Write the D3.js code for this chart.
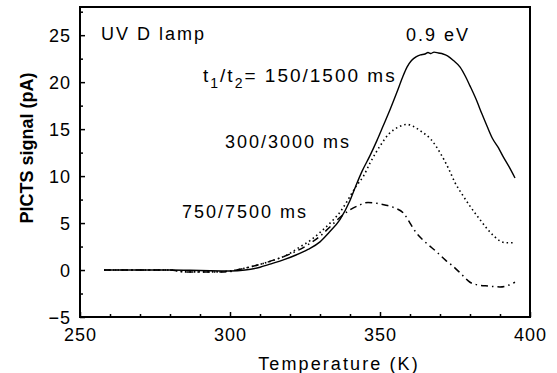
<!DOCTYPE html>
<html>
<head>
<meta charset="utf-8">
<script src="https://cdn.jsdelivr.net/npm/d3@7"></script>
<style>
  body { margin: 0; background: #fff; }
  svg { display: block; font-family: "Liberation Sans", Arial, sans-serif; }
</style>
</head>
<body>
<script>
// data: [temperature K, signal pA]
const curve150 = [[258,0],[270,0],[280,0],[290,-0.05],[300,-0.1],[305,0],[310,0.3],[313,0.6],[318,1.1],
  [322,1.6],[326,2.2],[330,3.0],[333,4.0],[336.7,5.4],[340,7.4],[342,9.0],[344,10.5],[346.7,12.2],
  [349,13.8],[351,15.3],[353.5,17.2],[355.6,18.9],[357.5,20.5],[359,21.6],[360.5,22.3],[362,22.7],
  [363.5,22.9],[365,23.0],[366,23.15],[367,23.05],[368,23.2],[369.5,23.1],[371,23.0],[372.5,22.8],
  [374.5,22.3],[376.7,21.6],[378.5,20.6],[380,19.6],[382,18.2],[384,16.6],[385.7,15.3],[387.5,14.0],
  [389.5,13.0],[391,12.1],[393,11.0],[395,9.8]];
const curve300 = [[258,0],[280,0],[285,-0.2],[295,-0.2],[300,-0.1],[305,0.2],[310,0.6],[315,1.1],
  [319,1.6],[323,2.4],[327,3.2],[330,4.0],[334,5.2],[337,6.3],[339,7.3],[342,8.9],[344.5,10.0],
  [346.7,11.4],[350,13.2],[353,14.5],[356,15.2],[359,15.5],[361,15.3],[364,14.7],[367,13.9],
  [370,12.5],[373,10.7],[375,9.3],[377.5,8.0],[380,6.8],[383,5.5],[385.7,4.4],[388,3.6],[390,3.1],
  [392,2.9],[395,2.9]];
const curve750 = [[258,0],[280,0],[285,-0.2],[298,-0.2],[305,0.2],[310,0.6],[315,1.1],[320,1.7],
  [325,2.5],[330,3.6],[334,4.8],[337,5.7],[340,6.4],[343,6.9],[346,7.2],[349,7.1],[352,6.9],
  [355,6.6],[358,6.0],[360,5.0],[362,4.0],[365,3.0],[369,1.9],[372,1.0],[374,0.5],[377,-0.4],
  [380,-1.3],[383,-1.6],[386,-1.7],[390,-1.8],[393,-1.6],[395,-1.3]];

const xTicks = [250, 300, 350, 400];
const xMinor = [260, 270, 280, 290, 310, 320, 330, 340, 360, 370, 380, 390];
const yTicks = [-5, 0, 5, 10, 15, 20, 25];
const yMinor = [-2.5, 2.5, 7.5, 12.5, 17.5, 22.5, 27.5];

const W = 557, H = 373;
const margin = {top: 7, right: 27, bottom: 56, left: 80},
      width = W - margin.left - margin.right,
      height = H - margin.top - margin.bottom;

const svg = d3.select("body").append("svg")
    .attr("width", W)
    .attr("height", H);

const g = svg.append("g")
    .attr("transform", `translate(${margin.left},${margin.top})`);

const x = d3.scaleLinear().domain([250, 400]).range([0, width]);
const y = d3.scaleLinear().domain([-5, 28]).range([height, 0]);

// curves
const line = d3.line().x(d => x(d[0])).y(d => y(d[1])).curve(d3.curveMonotoneX);

g.append("path").datum(curve150)
    .attr("fill", "none").attr("stroke", "#000").attr("stroke-width", 1.4)
    .attr("d", line);
g.append("path").datum(curve300)
    .attr("fill", "none").attr("stroke", "#000").attr("stroke-width", 1.6)
    .attr("stroke-dasharray", "1.5,3")
    .attr("d", line);
g.append("path").datum(curve750)
    .attr("fill", "none").attr("stroke", "#000").attr("stroke-width", 1.5)
    .attr("stroke-dasharray", "7,4,1.5,4")
    .attr("d", line);

// axes, ticks inside
const xAxis = g.append("g")
    .attr("transform", `translate(0,${height})`)
    .call(d3.axisBottom(x).tickValues(xTicks).tickSize(-5).tickFormat(d3.format("d")));
g.append("g")
    .attr("transform", `translate(0,${height})`)
    .call(d3.axisBottom(x).tickValues(xMinor).tickSize(-3).tickFormat(""));
const yAxis = g.append("g")
    .call(d3.axisLeft(y).tickValues(yTicks).tickSize(-5).tickFormat(d3.format("d")));
g.append("g")
    .call(d3.axisLeft(y).tickValues(yMinor).tickSize(-3).tickFormat(""));

g.selectAll(".domain").remove();
g.selectAll(".tick line").attr("stroke", "#000").attr("stroke-width", 1.5);

xAxis.selectAll("text")
    .attr("y", 24).attr("dy", null)
    .attr("fill", "#000")
    .style("font-size", "18px").style("letter-spacing", "1px");
yAxis.selectAll("text")
    .attr("x", -9).attr("dy", "0.35em")
    .attr("fill", "#000")
    .style("font-size", "18px").style("letter-spacing", "1px");

// frame
g.append("rect")
    .attr("width", width).attr("height", height)
    .attr("fill", "none").attr("stroke", "#000").attr("stroke-width", 2);

// axis titles
svg.append("text")
    .attr("x", 339).attr("y", 370)
    .attr("text-anchor", "middle")
    .style("font-size", "18px").style("letter-spacing", "2.1px")
    .text("Temperature (K)");
svg.append("text")
    .attr("transform", "translate(33,148) rotate(-90)")
    .attr("text-anchor", "middle")
    .style("font-size", "18px").style("font-weight", "bold")
    .text("PICTS signal (pA)");

// annotations
const note = (tx, ty, s) => svg.append("text")
    .attr("x", tx).attr("y", ty)
    .style("font-size", "18px").style("letter-spacing", "2px")
    .text(s);
note(101, 40, "UV D lamp");
note(406, 41, "0.9 eV");
note(225, 148, "300/3000 ms");
note(182, 218, "750/7500 ms");

const t = svg.append("text")
    .attr("x", 203).attr("y", 82)
    .style("font-size", "19px").style("letter-spacing", "2px");
t.append("tspan").text("t");
t.append("tspan").attr("dy", 6).style("font-size", "14px").text("1");
t.append("tspan").attr("dy", -6).text("/t");
t.append("tspan").attr("dy", 6).style("font-size", "14px").text("2");
t.append("tspan").attr("dy", -6).text("= 150/1500 ms");
</script>
</body>
</html>
